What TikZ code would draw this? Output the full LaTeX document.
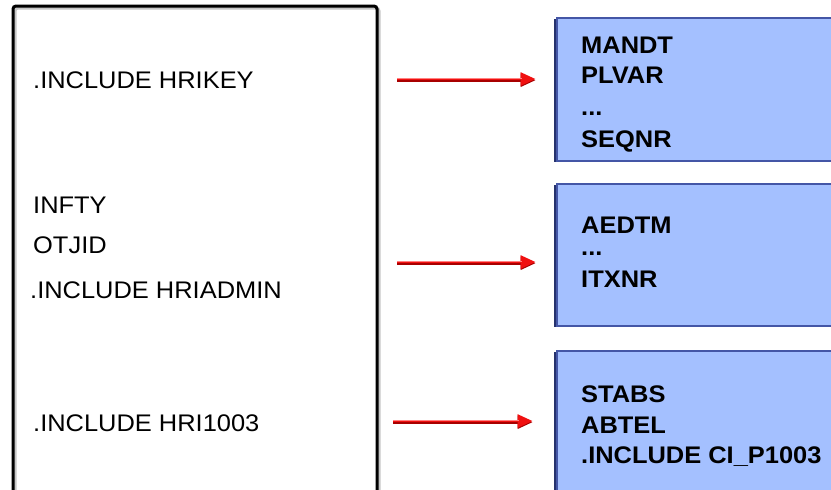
\documentclass[tikz,border=0pt]{standalone}
\usepackage{fontspec}
\setmainfont{Liberation Sans}[FakeStretch=1.06]
\usetikzlibrary{arrows.meta}
\definecolor{boxfill}{HTML}{A4C0FF}
\definecolor{boxline}{HTML}{4456A6}
\definecolor{boxshade}{HTML}{26326E}
\definecolor{arrowred}{HTML}{F01010}
\definecolor{arrowdark}{HTML}{A80000}
\definecolor{arrowlight}{HTML}{FF8080}
\tikzset{
  txt/.style={anchor=base west, inner sep=0pt, font=\fontsize{24}{29}\selectfont},
  fld/.style={txt, font=\fontsize{24}{29}\selectfont\bfseries},
  structbox/.style={draw=boxline, line width=1.6pt, fill=boxfill, inner sep=0pt},
  boxshadow/.style={fill=boxshade},
  arrowbody/.style={draw=arrowred, line width=2.6pt, -{Triangle[length=15pt,width=13pt]}},
  arrowshade/.style={draw=arrowdark, line width=2.6pt, -{Triangle[length=15pt,width=13pt]}},
  arrowgleam/.style={draw=arrowlight, line width=0.8pt},
}
\begin{document}
\begin{tikzpicture}[x=1pt,y=-1pt]
\useasboundingbox (0,0) rectangle (831,490);

% include structure (open at the bottom)
\draw[gray!45, line width=3pt, rounded corners=3pt] (15,500) -- (15,8) -- (379,8) -- (379,500);
\draw[black, line width=3pt, rounded corners=3pt] (13,500) -- (13,6) -- (377,6) -- (377,500);

\node[txt] (hrikey) at (33,88) {.INCLUDE HRIKEY};
\node[txt] (infty)  at (33,213) {INFTY};
\node[txt] (otjid)  at (33,253) {OTJID};
\node[txt] (admin)  at (30,298) {.INCLUDE HRIADMIN};
\node[txt] (hri1003) at (33,431) {.INCLUDE HRI1003};

% field boxes with their shadows
\fill[boxshadow] (554,19) rectangle (845,162);
\node[structbox, minimum width=290pt, minimum height=143pt, anchor=north west] (keybox) at (556,17) {};
\fill[boxshadow] (554,185) rectangle (845,327);
\node[structbox, minimum width=290pt, minimum height=142pt, anchor=north west] (adminbox) at (556,183) {};
\fill[boxshadow] (554,352) rectangle (845,500);
\node[structbox, minimum width=290pt, minimum height=150pt, anchor=north west] (infobox) at (556,350) {};

\node[fld] (mandt) at (581,53)  {MANDT};
\node[fld] (plvar) at (581,83)  {PLVAR};
\node[fld] (dots1) at (581,115) {...};
\node[fld] (seqnr) at (581,147) {SEQNR};

\node[fld] (aedtm) at (581,233) {AEDTM};
\node[fld] (dots2) at (581,255) {...};
\node[fld] (itxnr) at (581,287) {ITXNR};

\node[fld] (stabs) at (581,402) {STABS};
\node[fld] (abtel) at (581,433) {ABTEL};
\node[fld] (ci)    at (581,463) {.INCLUDE CI\_P1003};

% arrows from the includes to the field boxes
\coordinate (a1) at (397,79);
\coordinate (a2) at (397,262);
\coordinate (a3) at (393,421);
\foreach \s/\b/\g in {a1/keybox/20.5, a2/adminbox/20.5, a3/infobox/23.5}{
  \draw[arrowshade, shorten >=\g pt] ([yshift=-1.2pt]\s) -- ([yshift=-1.2pt]\s -| \b.west);
  \draw[arrowbody, shorten >=\g pt] (\s) -- (\s -| \b.west);
  \draw[arrowgleam, shorten >=\g pt+14pt] ([yshift=1.1pt]\s) -- ([yshift=1.1pt]\s -| \b.west);
}
\end{tikzpicture}
\end{document}
